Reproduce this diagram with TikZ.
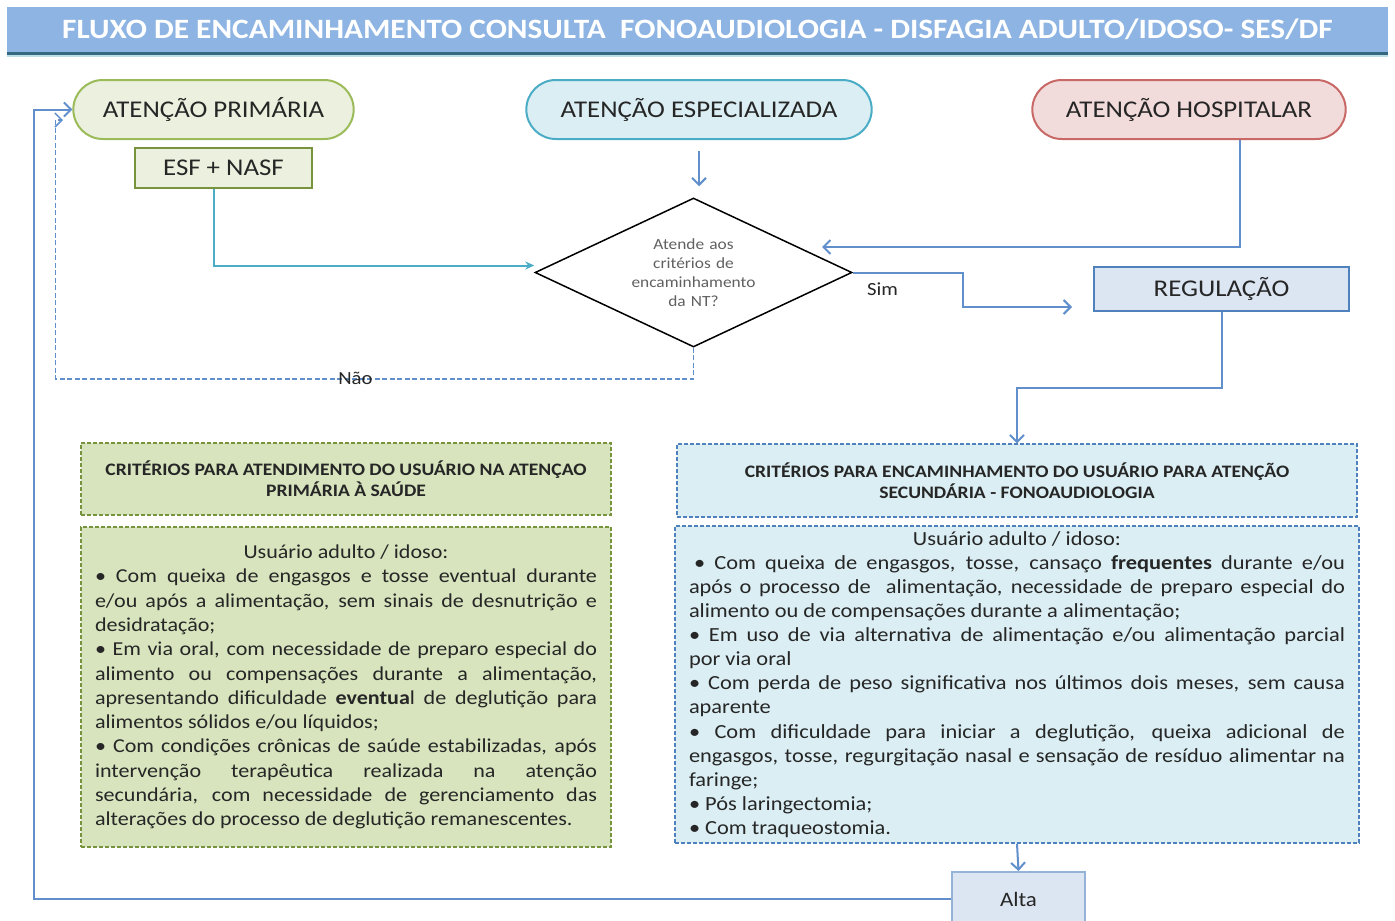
\documentclass[tikz,border=0pt]{standalone}
\usepackage{fontspec}
\setmainfont{Carlito}[FakeStretch=1.12]
\usepackage{tikz}
\usetikzlibrary{shapes.geometric}
\usetikzlibrary{shapes.misc}
\usetikzlibrary{arrows.meta}
\usepackage{xcolor}
\definecolor{titleblue}{RGB}{141,180,226}
\definecolor{titleedge}{RGB}{52,104,128}
\definecolor{titlelight}{RGB}{190,222,230}
\definecolor{palegreen}{RGB}{235,241,222}
\definecolor{greenedge}{RGB}{155,187,89}
\definecolor{darkgreen}{RGB}{119,147,60}
\definecolor{critgreen}{RGB}{215,228,189}
\definecolor{palecyan}{RGB}{218,238,243}
\definecolor{cyanedge}{RGB}{75,172,198}
\definecolor{palered}{RGB}{242,220,219}
\definecolor{rededge}{RGB}{200,105,103}
\definecolor{paleblue}{RGB}{220,230,242}
\definecolor{blueedge}{RGB}{79,129,189}
\definecolor{softblueedge}{RGB}{149,179,215}
\definecolor{linkblue}{RGB}{96,143,204}
\definecolor{ink}{RGB}{38,38,38}
\newcommand{\nohyph}{\hyphenpenalty=10000\relax\exhyphenpenalty=10000\relax}
\tikzset{
sector/.style = {rounded rectangle, draw, line width=2pt, minimum height=59pt, text=ink, font=\fontsize{24}{28}\selectfont},
operation/.style = {rectangle, draw, line width=2pt, text=ink, font=\fontsize{24}{28}\selectfont},
question/.style = {diamond, draw, line width=1.5pt, aspect=2.13, minimum width=317pt, minimum height=149pt, inner sep=0pt, text width=130pt, align=center, text=black!62, font=\fontsize{15.5}{19}\selectfont},
header/.style = {rectangle, draw, dash pattern=on 4pt off 2pt, line width=1.3pt, text=ink, align=center, font=\bfseries\fontsize{17.5}{21}\selectfont},
criteria/.style = {rectangle, draw, dash pattern=on 4pt off 2pt, line width=1.3pt, inner xsep=14pt, inner ysep=0pt, text=ink, align=justify},
lbl/.style = {text=ink, font=\fontsize{18.5}{22}\selectfont},
line/.style = {draw, line width=2pt, linkblue, -{Straight Barb[length=7pt,width=14pt]}},
coord/.style={coordinate}
}

\begin{document}
\begin{tikzpicture}[x=1pt, y=-1pt]
    \useasboundingbox (0,0) rectangle (1395,921);
    \fill[white] (0,0) rectangle (1395,921);

    % title bar
    \node [rectangle, fill=titleblue, minimum width=1381pt, minimum height=45pt, inner sep=0pt, text=white, font=\bfseries\fontsize{28}{30}\selectfont] (title) at (697.5,29.5) {FLUXO DE ENCAMINHAMENTO CONSULTA\ \ FONOAUDIOLOGIA - DISFAGIA ADULTO/IDOSO- SES/DF};
    \draw [titleedge, line width=3pt] ([yshift=-1.5pt]title.south west) -- ([yshift=-1.5pt]title.south east);
    \draw [titlelight, line width=1.5pt] ([yshift=-3.8pt]title.south west) -- ([yshift=-3.8pt]title.south east);

    \node [sector, fill=palegreen, draw=greenedge, minimum width=287pt] (prim) at (213.5,109.5) {ATENÇÃO PRIMÁRIA};
    \node [operation, fill=palegreen, draw=darkgreen, minimum width=177pt, minimum height=40pt] (esf) at (223.5,168) {ESF + NASF};
    \node [sector, fill=palecyan, draw=cyanedge, minimum width=352pt] (esp) at (699,109.5) {ATENÇÃO ESPECIALIZADA};
    \node [sector, fill=palered, draw=rededge, minimum width=320pt] (hosp) at (1189,109.5) {ATENÇÃO HOSPITALAR};

    \node [question] (nt) at (693.5,272.5) {Atende aos\\critérios de\\encaminhamento\\da NT?};
    \node [operation, fill=paleblue, draw=blueedge, minimum width=255pt, minimum height=44pt] (reg) at (1221.5,289) {REGULAÇÃO};

    \node [header, fill=critgreen, draw=darkgreen, minimum width=530pt, minimum height=72pt] (critA) at (346,479) {CRITÉRIOS PARA ATENDIMENTO DO USUÁRIO NA ATENÇAO\\PRIMÁRIA À SAÚDE};
    \node [criteria, fill=critgreen, draw=darkgreen, text width=502pt, minimum height=320pt, font=\fontsize{19.7}{24.3}\selectfont, below of=critA, node distance=208pt] (bodyA) {\nohyph\centerline{Usuário adulto / idoso:}
\textbullet{} Com queixa de engasgos e tosse eventual durante\linebreak
e/ou após a alimentação, sem sinais de desnutrição e\linebreak
desidratação;\par
\textbullet{} Em via oral, com necessidade de preparo especial do\linebreak
alimento ou compensações durante a alimentação,\linebreak
apresentando dificuldade \textbf{eventua}l de deglutição para\linebreak
alimentos sólidos e/ou líquidos;\par
\textbullet{} Com condições crônicas de saúde estabilizadas, após\linebreak
intervenção terapêutica realizada na atenção\linebreak
secundária, com necessidade de gerenciamento das\linebreak
alterações do processo de deglutição remanescentes.};

    \node [header, fill=palecyan, draw=blueedge, minimum width=680pt, minimum height=73pt] (critB) at (1017,480.5) {CRITÉRIOS PARA ENCAMINHAMENTO DO USUÁRIO PARA ATENÇÃO\\SECUNDÁRIA - FONOAUDIOLOGIA};
    \node [criteria, fill=palecyan, draw=blueedge, text width=656pt, minimum height=317pt, font=\fontsize{20}{24.1}\selectfont, below of=critB, node distance=204pt] (bodyB) {\nohyph\centerline{Usuário adulto / idoso:}
\hspace*{5pt}\textbullet{} Com queixa de engasgos, tosse, cansaço \textbf{frequentes} durante e/ou\linebreak
após o processo de\ \ alimentação, necessidade de preparo especial do\linebreak
alimento ou de compensações durante a alimentação;\par
\textbullet{} Em uso de via alternativa de alimentação e/ou alimentação parcial\linebreak
por via oral\par
\textbullet{} Com perda de peso significativa nos últimos dois meses, sem causa\linebreak
aparente\par
\textbullet{} Com dificuldade para iniciar a deglutição, queixa adicional de\linebreak
engasgos, tosse, regurgitação nasal e sensação de resíduo alimentar na\linebreak
faringe;\par
\textbullet{} Pós laringectomia;\par
\textbullet{} Com traqueostomia.};

    \node [operation, fill=paleblue, draw=softblueedge, minimum width=133pt, minimum height=54pt, font=\fontsize{20.5}{24}\selectfont] (alta) at (1018.5,899) {Alta};

    \coordinate (hin) at (822,247);
    \coordinate (simend) at (1072,307);
    \coordinate (naoend) at (63,120);

    \path [line] (esp.south) -- (esp.south |- nt.north) [shorten <=11pt, shorten >=11pt];
    \path [line, cyanedge, -{Stealth[length=9pt,width=8pt]}] (esf.south -| prim.south) |- ([yshift=7pt]nt.west);
    \path [line] ([xshift=51pt]hosp.south) |- (hin);
    \path [line] (nt.east) -- node [lbl, below, yshift=-6pt, pos=0.27] {Sim} ++(110,0) |- (simend);
    \path [line] (reg.south) -- ++(0,76) -| (critB.north);
    \path [line, line width=1.5pt, dash pattern=on 5pt off 2.5pt] (nt.south) -- ++(0,31) -- node [lbl, pos=0.53] {Não} ++(-638,0) |- (naoend);
    \path [line] (bodyB.south) -- (alta.north);
    \path [line] (alta.west) -- ++(-917,0) |- (prim.west);
\end{tikzpicture}
\end{document}
